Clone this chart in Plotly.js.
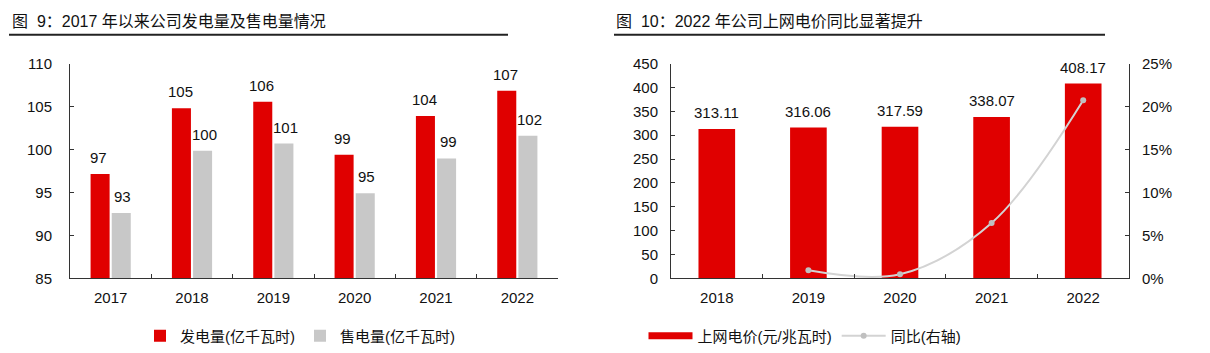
<!DOCTYPE html>
<html><head><meta charset="utf-8">
<script src="https://cdn.plot.ly/plotly-3.0.1.min.js"></script>
<style>html,body{margin:0;padding:0;background:#fff}#c{width:1210px;height:353px}</style>
</head><body><div id="c"></div>
<script>
// ---- data ----
const years1 = ['2017','2018','2019','2020','2021','2022'];
const genPower = [97.15, 104.8, 105.56, 99.4, 103.9, 106.84];   // 发电量(亿千瓦时)
const salePower = [92.6, 99.85, 100.7, 94.9, 98.97, 101.6];     // 售电量(亿千瓦时)
const years2 = ['2018','2019','2020','2021','2022'];
const gridPrice = [313.11, 316.06, 317.59, 338.07, 408.17];     // 上网电价(元/兆瓦时)
const yoyYears = ['2019','2020','2021','2022'];
const yoy = [0.94, 0.48, 6.45, 20.74];                           // 同比 (%)
const title1 = '图  9：2017 年以来公司发电量及售电量情况';
const title2 = '图  10：2022 年公司上网电价同比显著提升';

const FONT = 'Liberation Sans, Arial, Noto Sans CJK SC, sans-serif';
const RED = '#E00000', GRAY = '#C8C8C8', AX = '#333333';

const traces = [
  {type:'bar', x:years1, y:genPower, name:'发电量(亿千瓦时)', marker:{color:RED},
   xaxis:'x', yaxis:'y', legend:'legend', hoverinfo:'none'},
  {type:'bar', x:years1, y:salePower, name:'售电量(亿千瓦时)', marker:{color:GRAY},
   xaxis:'x', yaxis:'y', legend:'legend', hoverinfo:'none'},
  {type:'bar', x:years2, y:gridPrice, name:'上网电价(元/兆瓦时)', marker:{color:RED}, width:0.4,
   xaxis:'x2', yaxis:'y2', showlegend:false, hoverinfo:'none'},
  {type:'scatter', mode:'lines', x:[null], y:[null], name:'上网电价(元/兆瓦时)',
   line:{color:RED, width:7}, xaxis:'x2', yaxis:'y2', legend:'legend2'},
  {type:'scatter', mode:'lines+markers', x:yoyYears, y:yoy, name:'同比(右轴)',
   line:{color:'#D3D3D3', width:2, shape:'spline', smoothing:1},
   marker:{color:'#C0C0C0', size:6}, xaxis:'x2', yaxis:'y3', legend:'legend2', hoverinfo:'none'}
];

const annotations = [];
const lf = {family:FONT, size:15, color:'#111'};
genPower.forEach((v,i)=>annotations.push({x:i, y:v, xref:'x', yref:'y', text:v.toFixed(0),
  showarrow:false, yanchor:'bottom', xshift:-12, yshift:6, font:lf}));
salePower.forEach((v,i)=>annotations.push({x:i, y:v, xref:'x', yref:'y', text:v.toFixed(0),
  showarrow:false, yanchor:'bottom', xshift:12, yshift:6, font:lf}));
gridPrice.forEach((v,i)=>annotations.push({x:i, y:v, xref:'x2', yref:'y2', text:v.toFixed(2),
  showarrow:false, yanchor:'bottom', yshift:6, font:lf}));
annotations.push({xref:'paper', yref:'paper', x:10/1210, y:1-22/353, xanchor:'left', yanchor:'middle',
  text:title1, showarrow:false, font:{family:FONT, size:16, color:'#111'}});
annotations.push({xref:'paper', yref:'paper', x:614/1210, y:1-22/353, xanchor:'left', yanchor:'middle',
  text:title2, showarrow:false, font:{family:FONT, size:16, color:'#111'}});

const axBase = {showline:true, linecolor:AX, linewidth:1, ticks:'inside', ticklen:4, tickcolor:AX,
  showgrid:false, zeroline:false, tickfont:{family:FONT, size:15, color:'#111'}, fixedrange:true};
const yDom = [1-280/353, 1-64/353];

const layout = {
  width:1210, height:353, margin:{l:0,r:0,t:0,b:0},
  paper_bgcolor:'#fff', plot_bgcolor:'#fff',
  font:{family:FONT, size:15, color:'#111'},
  barmode:'group', bargap:0.48, bargroupgap:0.1,
  xaxis:Object.assign({}, axBase, {domain:[70/1210, 558/1210], anchor:'y', type:'category', range:[-0.5, years1.length-0.5], tickson:'boundaries', ticklabelstandoff:6, tickangle:0}),
  yaxis:Object.assign({}, axBase, {domain:yDom, anchor:'x', range:[85,110], dtick:5, ticklabelstandoff:14}),
  xaxis2:Object.assign({}, axBase, {domain:[671/1210, 1129/1210], anchor:'y2', type:'category', range:[-0.5, years2.length-0.5], categoryarray:years2, categoryorder:'array', tickson:'boundaries', ticklabelstandoff:6, tickangle:0}),
  yaxis2:Object.assign({}, axBase, {domain:yDom, anchor:'x2', range:[0,450], dtick:50, ticklabelstandoff:9}),
  yaxis3:Object.assign({}, axBase, {domain:yDom, anchor:'x2', overlaying:'y2', side:'right', range:[0,25], dtick:5, ticksuffix:'%', ticklabelstandoff:9}),
  shapes:[
    {type:'line', xref:'paper', yref:'paper', x0:9/1210, x1:508/1210, y0:1-35/353, y1:1-35/353, line:{color:'#222', width:2}},
    {type:'line', xref:'paper', yref:'paper', x0:614/1210, x1:1105/1210, y0:1-35/353, y1:1-35/353, line:{color:'#222', width:2}}
  ],
  legend:{orientation:'h', x:300/1210, xanchor:'center', y:1-338/353, yanchor:'middle',
    font:{family:FONT, size:15, color:'#111'}, itemwidth:30, bgcolor:'rgba(0,0,0,0)'},
  legend2:{orientation:'h', x:805/1210, xanchor:'center', y:1-338/353, yanchor:'middle',
    font:{family:FONT, size:15, color:'#111'}, itemwidth:44, bgcolor:'rgba(0,0,0,0)'},
  annotations:annotations
};
Plotly.newPlot('c', traces, layout, {staticPlot:true, displayModeBar:false});
</script></body></html>
